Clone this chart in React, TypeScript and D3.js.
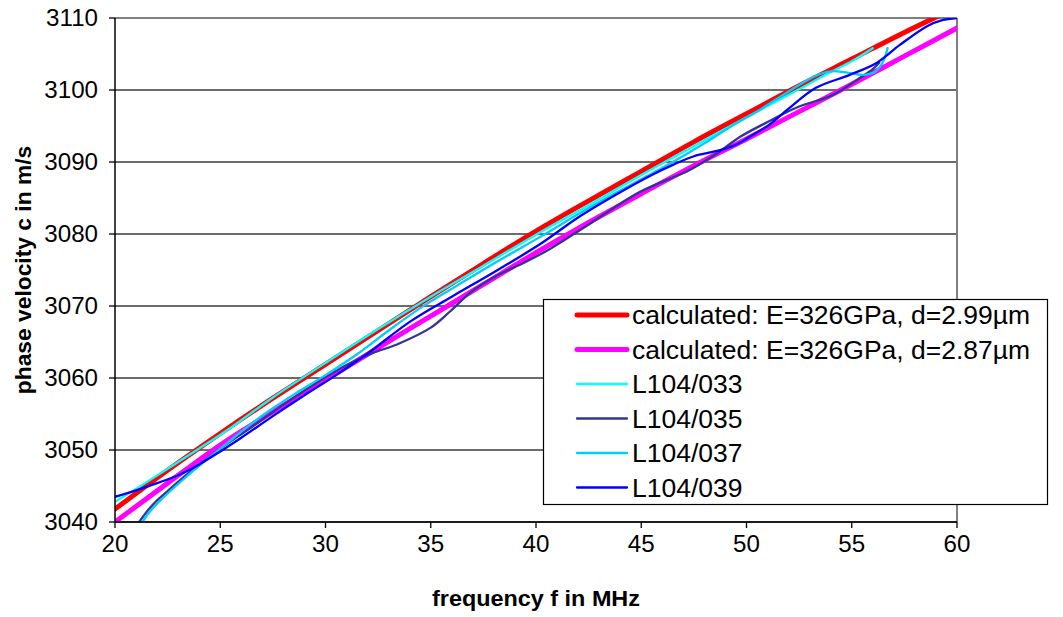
import React from 'react';
import * as d3 from 'd3';

type P = [number, number];

const xTicks = [20, 25, 30, 35, 40, 45, 50, 55, 60];
const yTicks = [3040, 3050, 3060, 3070, 3080, 3090, 3100, 3110];

const calc299: P[] = [[20,3041.8],[22.5,3047.2],[25,3052.3],[27.5,3057.2],[30,3061.9],[32.5,3066.6],[35,3071.3],[37.5,3075.9],[40,3080.4],[42.5,3084.6],[45,3088.7],[47.5,3092.8],[50,3096.7],[52.5,3100.6],[55,3104.3],[57.5,3108.0],[60,3111.5]];
const calc287: P[] = [[20,3040.0],[22.5,3045.4],[25,3050.7],[27.5,3055.3],[30,3059.7],[32.5,3064.2],[35,3068.6],[37.5,3073.0],[40,3077.4],[42.5,3081.6],[45,3085.6],[47.5,3089.5],[50,3093.2],[52.5,3097.0],[55,3100.8],[57.5,3104.7],[60,3108.6]];
const l033: P[] = [[20,3042.8],[21,3044.6],[22.5,3047.4],[24,3050.2],[25.5,3053.1],[27.5,3057.3],[30,3062.1],[32.5,3066.8],[35,3071.3],[37.5,3075.6],[40,3079.9],[42.5,3084.0],[45,3088.2],[47.5,3092.2],[50,3096.2],[52.5,3100.1],[54,3102.5],[55,3104.0],[56,3105.8]];
const l035: P[] = [[21.15,3040],[21.5,3041.4],[22,3043.0],[22.5,3044.3],[23.2,3046.1],[24,3048.0],[25,3050.2],[26.5,3053.2],[28,3056.3],[29.5,3059.2],[31,3061.8],[32.2,3063.4],[33.5,3064.8],[35,3067.0],[35.9,3069.2],[36.9,3071.9],[38,3074.0],[39.5,3076.1],[40.7,3078.0],[42.6,3081.5],[44.9,3085.8],[47.3,3088.9],[48.6,3091.2],[49.7,3093.5],[51.1,3095.7],[52.5,3097.7],[54.1,3099.3],[55.4,3101.7],[56.0,3102.9],[56.3,3103.8]];
const l037: P[] = [[21.3,3040],[21.7,3041.6],[22.3,3043.4],[23.2,3045.8],[24.5,3049.0],[25.6,3051.6],[26.5,3053.7],[27.5,3055.8],[28.6,3057.9],[30,3060.4],[31.5,3063.3],[33,3066.6],[34.5,3069.7],[36,3072.4],[38,3075.9],[40.2,3079.6],[42.5,3083.6],[45,3087.6],[46.5,3090.0],[48,3092.6],[49.3,3095.0],[50.6,3097.2],[52,3099.8],[53.3,3102.0],[54,3102.6],[54.8,3102.4],[55.5,3102.1],[56.1,3102.5],[56.5,3104.0],[56.7,3105.8]];
const l039: P[] = [[20,3043.5],[21,3044.4],[22,3045.4],[23,3046.5],[24,3048.0],[25,3049.8],[26,3051.7],[27.5,3054.7],[29,3057.6],[30.5,3060.4],[32,3063.4],[34,3067.8],[36,3071.3],[38,3074.7],[40.2,3078.6],[42,3082.3],[44,3085.8],[45.5,3088.2],[46.5,3089.6],[47.5,3090.8],[48.7,3091.6],[49.5,3092.4],[50.2,3093.6],[51.1,3095.2],[52,3097.4],[53.3,3100.3],[54.9,3102.1],[56.2,3103.8],[57.3,3106.3],[58.6,3108.9],[59.3,3109.7],[60,3110.0]];

const seriesNames = ['calculated: E=326GPa, d=2.99µm', 'calculated: E=326GPa, d=2.87µm', 'L104/033', 'L104/035', 'L104/037', 'L104/039'];
const seriesData = [calc299, calc287, l033, l035, l037, l039];
const seriesColors = ['#FF0000', '#FF00FF', '#00FFFF', '#333399', '#00CCFF', '#0000FF'];
const seriesWidths = [5, 5, 2.3, 2.3, 2.3, 2.3];

const FONT = '"Liberation Sans", Arial, sans-serif';

export default function App() {
  const W = 1063, H = 617;
  const L = 115, R = 957, T = 18, B = 522;
  const x = d3.scaleLinear().domain([20, 60]).range([L, R]);
  const y = d3.scaleLinear().domain([3040, 3110]).range([B, T]);
  const line = d3.line<P>().x(d => x(d[0])).y(d => y(d[1])).curve(d3.curveCatmullRom.alpha(0.5));

  const legX = 543.5, legY = 299.5, legW = 504, legH = 205;
  const rowY0 = 315, rowDy = 34.5;

  return (
    <svg width={W} height={H} style={{ position: 'absolute', left: 0, top: 0, display: 'block' }} fontFamily={FONT}>
      <rect x={0} y={0} width={W} height={H} fill="#fff" />
      <defs>
        <clipPath id="plotClip">
          <rect x={L} y={T} width={R - L} height={B - T} />
        </clipPath>
      </defs>
      {yTicks.map(t => (
        <line key={'g' + t} x1={L} x2={R} y1={y(t)} y2={y(t)} stroke="#3a3a3a" strokeWidth={1.3} />
      ))}
      <line x1={L} x2={R} y1={T} y2={T} stroke="#808080" strokeWidth={2} />
      <line x1={R} x2={R} y1={T} y2={B} stroke="#808080" strokeWidth={2} />
      <g clipPath="url(#plotClip)">
        {seriesData.map((d, i) => (
          <path key={i} d={line(d) || ''} fill="none" stroke={seriesColors[i]} strokeWidth={seriesWidths[i]} strokeLinejoin="round" strokeLinecap="round" />
        ))}
      </g>
      <line x1={L} x2={L} y1={T} y2={B} stroke="#000" strokeWidth={1.5} />
      <line x1={L} x2={R} y1={B} y2={B} stroke="#000" strokeWidth={1.5} />
      {yTicks.map(t => (
        <g key={'y' + t}>
          <line x1={L - 6} x2={L} y1={y(t)} y2={y(t)} stroke="#000" strokeWidth={1.3} />
          <text transform={`translate(98,${y(t) + 8}) scale(1.05,1)`} textAnchor="end" fontSize={23} fill="#000">{t}</text>
        </g>
      ))}
      {xTicks.map(t => (
        <g key={'x' + t}>
          <line x1={x(t)} x2={x(t)} y1={B} y2={B + 6} stroke="#000" strokeWidth={1.3} />
          <text transform={`translate(${x(t)},552) scale(1.05,1)`} textAnchor="middle" fontSize={23} fill="#000">{t}</text>
        </g>
      ))}
      <text transform={`translate(${(L + R) / 2},606) scale(1.04,1)`} textAnchor="middle" fontSize={22.5} fontWeight="bold" fill="#000">frequency f in MHz</text>
      <text transform={`translate(31,${(T + B) / 2}) rotate(-90)`} textAnchor="middle" fontSize={22.8} fontWeight="bold" fill="#000">phase velocity c in m/s</text>
      <rect x={legX} y={legY} width={legW} height={legH} fill="#fff" stroke="#000" strokeWidth={1.2} />
      {seriesNames.map((n, i) => {
        const cy = rowY0 + i * rowDy;
        return (
          <g key={'l' + i}>
            <line x1={577} x2={627} y1={cy} y2={cy} stroke={seriesColors[i]} strokeWidth={seriesWidths[i]} strokeLinecap="round" />
            <text transform={`translate(632,${cy + 9}) scale(1.06,1)`} fontSize={25} fill="#000">{n}</text>
          </g>
        );
      })}
    </svg>
  );
}
